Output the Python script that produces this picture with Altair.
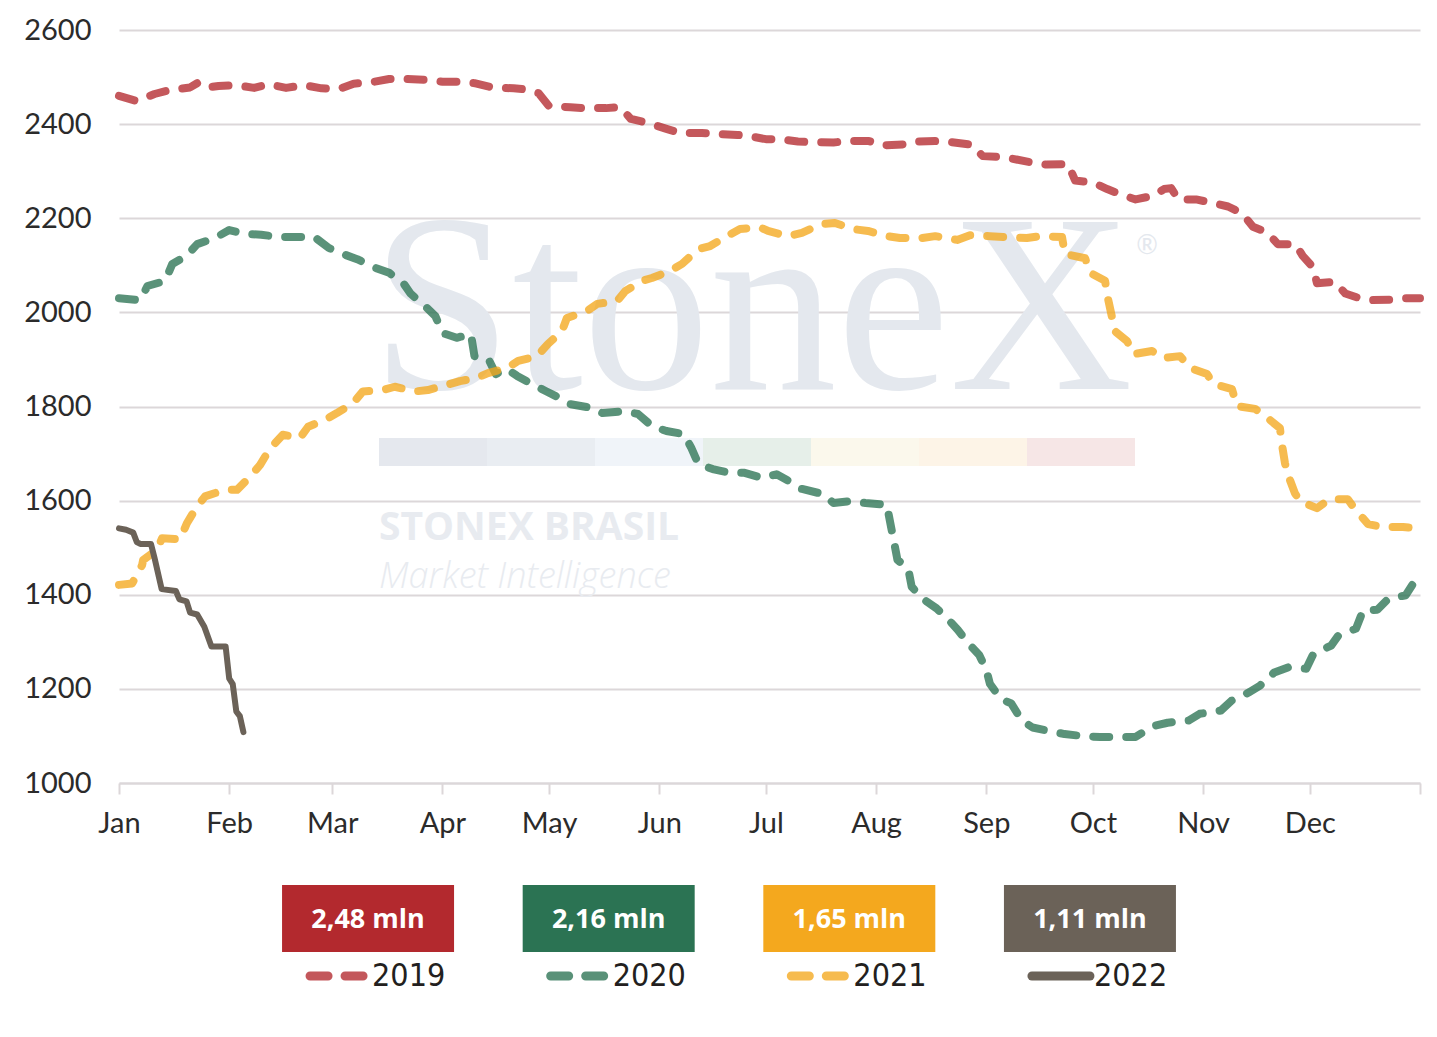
import altair as alt
import pandas as pd

# day of year (from 1 Jan) and stock values
d2019 = [0, 5, 10, 14, 20, 22, 24, 28, 33, 38, 42, 47, 52, 57, 62, 66, 71, 76, 81, 86,
         91, 95, 100, 105, 111, 114, 118, 121, 127, 131, 137, 141, 144, 149, 154, 158,
         164, 168, 174, 177, 182, 186, 191, 195, 201, 205, 211, 215, 221, 224, 230, 234,
         240, 243, 248, 251, 257, 261, 267, 269, 274, 278, 282, 286, 291, 294, 296, 298,
         303, 308, 312, 316, 319, 323, 326, 331, 333, 336, 337, 342, 345, 349, 352, 358,
         362, 366]
v2019 = [2460, 2449, 2464, 2472, 2478, 2487, 2477, 2481, 2483, 2477, 2485, 2477, 2483,
         2476, 2475, 2486, 2489, 2496, 2496, 2494, 2490, 2490, 2487, 2478, 2476, 2474,
         2466, 2438, 2436, 2434, 2434, 2436, 2411, 2402, 2390, 2381, 2381, 2379, 2377,
         2375, 2368, 2368, 2363, 2362, 2361, 2364, 2364, 2355, 2357, 2363, 2364, 2362,
         2356, 2332, 2330, 2327, 2318, 2314, 2315, 2280, 2276, 2262, 2250, 2240, 2248,
         2262, 2264, 2240, 2240, 2232, 2225, 2210, 2182, 2170, 2145, 2145, 2120, 2095,
         2062, 2065, 2040, 2030, 2026, 2027, 2030, 2030]

d2020 = [0, 6, 8, 13, 15, 19, 22, 27, 31, 35, 40, 45, 50, 55, 59, 63, 67, 72, 76, 80, 82,
         86, 89, 91, 95, 99, 100, 104, 106, 109, 112, 116, 120, 124, 127, 133, 136, 142,
         146, 150, 154, 159, 161, 163, 167, 172, 176, 181, 185, 190, 192, 198, 201, 206,
         210, 216, 219, 222, 223, 226, 230, 233, 236, 239, 242, 244, 245, 248, 251, 254,
         257, 262, 266, 272, 276, 282, 286, 291, 295, 301, 304, 310, 313, 318, 321, 325,
         329, 334, 336, 341, 343, 348, 350, 354, 357, 362, 364, 366]
v2020 = [2030, 2026, 2056, 2067, 2103, 2120, 2145, 2158, 2175, 2167, 2165, 2160, 2160,
         2160, 2137, 2124, 2113, 2095, 2084, 2062, 2040, 2014, 1992, 1956, 1946, 1954,
         1907, 1900, 1869, 1880, 1865, 1848, 1833, 1818, 1805, 1797, 1786, 1790, 1784,
         1758, 1748, 1741, 1712, 1678, 1667, 1659, 1659, 1648, 1656, 1635, 1625, 1614,
         1595, 1599, 1595, 1591, 1474, 1456, 1417, 1392, 1371, 1350, 1325, 1296, 1272,
         1240, 1211, 1179, 1169, 1133, 1118, 1110, 1104, 1099, 1098, 1098, 1098, 1121,
         1128, 1133, 1147, 1154, 1175, 1193, 1207, 1235, 1246, 1243, 1274, 1292, 1313,
         1328, 1367, 1368, 1391, 1399, 1423, 1420]

d2021 = [0, 3.7, 6.5, 6.8, 10.7, 12.1, 17.2, 19.1, 21.9, 24.2, 29.8, 33.2, 36.9, 39.7,
         42.5, 46.1, 50.9, 53.2, 58.0, 61.3, 65.8, 68.6, 74.3, 77.6, 83.3, 86.9, 92.3,
         95.9, 100.7, 103.8, 109.2, 112.3, 117.6, 120.7, 124.6, 126.0, 131.7, 134.5,
         140.1, 142.4, 147.1, 149.9, 155.0, 158.4, 162.9, 166.3, 171.0, 174.7, 180.3,
         182.6, 188.2, 192.1, 197.8, 201.4, 206.5, 210.7, 216.1, 219.7, 225.9, 229.6,
         235.8, 239.4, 245.0, 249.3, 255.4, 259.1, 265.3, 266.1, 271.8, 273.2, 277.4,
         278.2, 279.4, 280.2, 283.6, 285.3, 290.6, 293.4, 298.5, 301.3, 306.1, 307.8,
         313.1, 314.5, 319.6, 322.4, 326.6, 327.1, 328.0, 328.8, 330.8, 332.2, 337.0,
         340.6, 345.7, 347.7, 351.4, 355.3, 361.2, 366]
v2021 = [1421, 1424, 1463, 1474, 1495, 1520, 1518, 1552, 1587, 1609, 1623, 1623, 1651,
         1676, 1711, 1740, 1733, 1757, 1772, 1786, 1807, 1832, 1835, 1842, 1832, 1835,
         1846, 1854, 1861, 1871, 1882, 1897, 1907, 1933, 1960, 1988, 2003, 2018, 2024,
         2045, 2067, 2073, 2088, 2103, 2134, 2141, 2162, 2177, 2181, 2173, 2162, 2169,
         2188, 2190, 2177, 2173, 2162, 2158, 2158, 2162, 2154, 2164, 2162, 2160, 2158,
         2162, 2160, 2124, 2115, 2084, 2067, 2030, 1988, 1960, 1939, 1911, 1918, 1903,
         1907, 1882, 1869, 1848, 1837, 1801, 1795, 1780, 1754, 1722, 1680, 1656, 1616,
         1599, 1584, 1603, 1603, 1582, 1550, 1544, 1544, 1540]

d2022 = [0, 2, 4, 5, 6, 9, 10, 12, 16, 17, 19, 20, 22, 24, 26, 30, 31, 32, 33, 34, 35]
v2022 = [1541, 1538, 1532, 1512, 1508, 1508, 1478, 1412, 1408, 1390, 1386, 1362, 1358,
         1332, 1290, 1290, 1222, 1210, 1152, 1142, 1108]

years = ['2019', '2020', '2021', '2022']
box_labels = ['2,48 mln', '2,16 mln', '1,65 mln', '1,11 mln']
box_colors = ['#b3292e', '#2b7353', '#f4a81e', '#6b6258']
month_ticks = [alt.DateTime(year=2020, month=m, date=1) for m in range(1, 13)] + \
              [alt.DateTime(year=2021, month=1, date=1)]
y_ticks = list(range(1000, 2601, 200))

base = pd.Timestamp('2020-01-01')


def serie(days, vals):
    return pd.DataFrame({'date': base + pd.to_timedelta(days, unit='D'), 'value': vals})


xenc = alt.X('date:T', title=None,
             scale=alt.Scale(domain=[alt.DateTime(year=2020, month=1, date=1),
                                     alt.DateTime(year=2021, month=1, date=1)]),
             axis=alt.Axis(values=month_ticks, format='%b', grid=False, labelFlush=False,
                           labelExpr="year(datum.value) == 2021 ? '' : datum.label",
                           domainColor='#dcd7d9', domainWidth=2, tickColor='#dcd7d9',
                           tickWidth=2, tickSize=11, labelPadding=15))
yenc = alt.Y('value:Q', title=None, scale=alt.Scale(domain=[1000, 2600], nice=False),
             axis=alt.Axis(values=y_ticks, domain=False, ticks=False, labelPadding=28,
                           gridColor='#dcd7d9', gridWidth=2, format='d'))


def ligne(days, vals, color, dashed=True):
    props = dict(color=color, strokeCap='round', strokeJoin='round')
    if dashed:
        props.update(strokeWidth=8, strokeDash=[16, 17], strokeOpacity=0.78)
    else:
        props.update(strokeWidth=6)
    return alt.Chart(serie(days, vals)).mark_line(**props).encode(x=xenc, y=yenc)


# watermark
wm = pd.DataFrame({'t': ['x']})
wm_color = '#e4e8ee'
marque = [
    alt.Chart(wm).mark_text(text='StoneX', font='Liberation Serif', fontSize=254,
                            color=wm_color, baseline='alphabetic')
    .encode(x=alt.value(633), y=alt.value(359)),
    alt.Chart(wm).mark_text(text='®', font='Lato', fontSize=26, color=wm_color)
    .encode(x=alt.value(1028), y=alt.value(216)),
    alt.Chart(wm).mark_text(text='STONEX BRASIL', font='Open Sans', fontSize=39, fontWeight='bold',
                            color='#e8ebf0', align='left', baseline='alphabetic')
    .encode(x=alt.value(260), y=alt.value(510)),
    alt.Chart(wm).mark_text(text='Market Intelligence', font='Open Sans', fontSize=36,
                            fontStyle='italic', fontWeight=300, color='#e8ebf0',
                            align='left', baseline='alphabetic')
    .encode(x=alt.value(260), y=alt.value(558)),
]
band_colors = ['#e5e8ee', '#e9edf2', '#f0f4f9', '#e6efe9', '#fbf8ec', '#fdf4e7', '#f6e6e6']
for i, c in enumerate(band_colors):
    marque.append(alt.Chart(wm).mark_rect(color=c).encode(
        x=alt.value(260 + 108 * i), x2=alt.value(368 + 108 * i),
        y=alt.value(408), y2=alt.value(436)))

main = alt.layer(
    *marque,
    ligne(d2019, v2019, box_colors[0]),
    ligne(d2020, v2020, box_colors[1]),
    ligne(d2021, v2021, box_colors[2]),
    ligne(d2022, v2022, box_colors[3], dashed=False),
).properties(width=1301, height=753)

# legend boxes
leg = pd.DataFrame({'year': years, 'label': box_labels, 'box': box_colors,
                    'dashed': [True, True, True, False]})
lx = alt.X('year:N', axis=None, sort=years,
           scale=alt.Scale(paddingInner=0, paddingOuter=0.535))
boxes = alt.Chart(leg).mark_bar(width=172).encode(
    x=lx, y=alt.value(0), y2=alt.value(67), color=alt.Color('box:N', scale=None))
box_txt = alt.Chart(leg).mark_text(font='Open Sans', fontSize=27, fontWeight='bold',
                                   color='white').encode(x=lx, y=alt.value(35), text='label:N')
year_txt = alt.Chart(leg).mark_text(font='Liberation Sans Narrow, DejaVu Sans Condensed, Roboto',
                                    fontSize=32, color='#231f20', align='left', dx=4).encode(
    x=lx, y=alt.value(91), text='year:N')
sym_dash = alt.Chart(leg).transform_filter('datum.dashed').mark_point(
    shape='M-1,0L1,0', size=3364, filled=False, strokeWidth=9, strokeDash=[18, 17],
    strokeCap='round', opacity=0.78, xOffset=-29).encode(
    x=lx, y=alt.value(91), color=alt.Color('box:N', scale=None))
sym_solid = alt.Chart(leg).transform_filter('!datum.dashed').mark_point(
    shape='M-1,0L1,0', size=3364, filled=False, strokeWidth=9, strokeCap='round',
    opacity=1, xOffset=-29).encode(
    x=lx, y=alt.value(91), color=alt.Color('box:N', scale=None))
legend = alt.layer(boxes, box_txt, sym_dash, sym_solid, year_txt).properties(width=1220, height=110)

chart = alt.vconcat(main, legend, spacing=47).properties(
    padding={'left': 15, 'top': 8, 'right': 5, 'bottom': 5}
).configure_view(stroke=None).configure_axis(
    labelFont='Lato', labelFontSize=29, labelColor='#2b2b2b'
)

chart.save('out.html', embed_options={'renderer': 'svg', 'actions': False})
